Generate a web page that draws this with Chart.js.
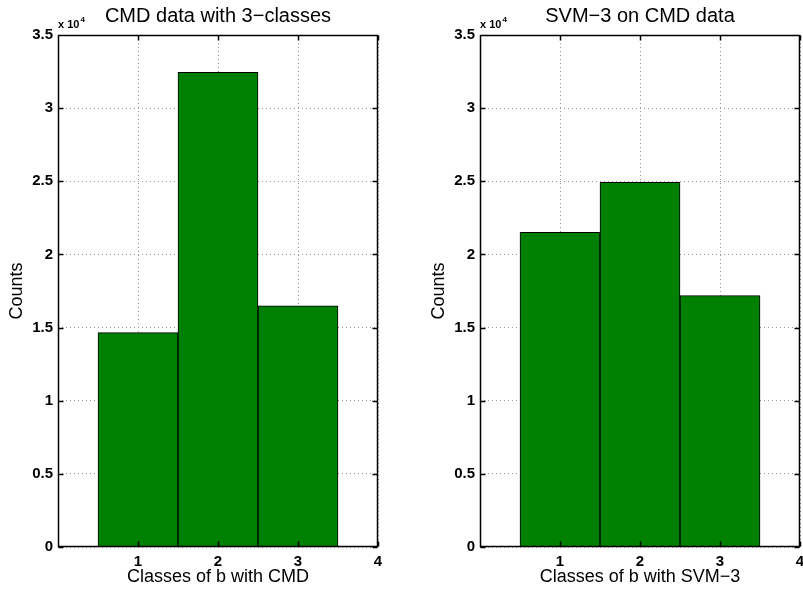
<!DOCTYPE html>
<html>
<head>
<meta charset="utf-8">
<script src="https://cdn.jsdelivr.net/npm/chart.js@4.4.0/dist/chart.umd.min.js"></script>
<style>
	html, body { margin: 0; padding: 0; background: #fff; overflow: hidden; }
	.panel { position: absolute; top: 0; width: 400px; height: 590px; }
</style>
</head>
<body>
<div class="panel" style="left:0"><canvas id="cmdChart" width="400" height="590"></canvas></div>
<div class="panel" style="left:422px"><canvas id="svmChart" width="400" height="590"></canvas></div>
<script>
const classes = [1, 2, 3];
const cmdCounts = [14650, 32450, 16490];
const svmCounts = [21510, 24930, 17180];
const xTicks = [1, 2, 3, 4];
const yTicks = [0, 5000, 10000, 15000, 20000, 25000, 30000, 35000];
const yTickLabels = ["0", "0.5", "1", "1.5", "2", "2.5", "3", "3.5"];

const FONT = "'Liberation Sans', Arial, Helvetica, sans-serif";

// box, inward tick marks and the "x 10^4" multiplier, drawn like matlab does
const matlabBox = {
	id: "matlabBox",
	afterDatasetsDraw(chart) {
		const { ctx, chartArea: a, scales } = chart;
		const l = Math.round(a.left) + 0.5;
		const r = Math.round(a.right) - 0.5;
		const t = Math.round(a.top) + 0.5;
		const b = Math.round(a.bottom) - 0.5;
		ctx.save();
		ctx.strokeStyle = "#000";
		ctx.lineWidth = 1.5;
		ctx.beginPath();
		ctx.rect(l, t, r - l, b - t);
		scales.y.ticks.forEach((tk) => {
			const y = Math.round(scales.y.getPixelForValue(tk.value)) + 0.5;
			ctx.moveTo(l, y);
			ctx.lineTo(l + 5, y);
			ctx.moveTo(r, y);
			ctx.lineTo(r - 5, y);
		});
		scales.x.ticks.forEach((tk) => {
			const x = Math.round(scales.x.getPixelForValue(tk.value)) + 0.5;
			ctx.moveTo(x, b);
			ctx.lineTo(x, b - 5);
			ctx.moveTo(x, t);
			ctx.lineTo(x, t + 5);
		});
		ctx.stroke();

		ctx.fillStyle = "#000";
		ctx.textBaseline = "alphabetic";
		ctx.textAlign = "left";
		ctx.font = "bold 11px " + FONT;
		ctx.fillText("x 10", a.left, a.top - 7);
		const w = ctx.measureText("x 10").width;
		ctx.font = "bold 8px " + FONT;
		ctx.fillText("4", a.left + w + 1, a.top - 13);
		ctx.restore();
	},
};

function makeChart(id, title, xLabel, counts) {
	return new Chart(document.getElementById(id), {
		type: "bar",
		data: {
			datasets: [
				{
					data: classes.map((c, i) => ({ x: c, y: counts[i] })),
					backgroundColor: "#008000",
					borderColor: "#000",
					borderWidth: 1,
					barPercentage: 1,
					categoryPercentage: 1,
				},
			],
		},
		options: {
			responsive: false,
			animation: false,
			layout: { padding: { left: 0, right: 22, top: 0, bottom: 0 } },
			plugins: {
				legend: { display: false },
				tooltip: { enabled: false },
				title: {
					display: true,
					fullSize: false,
					text: title,
					color: "#000",
					font: { family: FONT, size: 20, weight: "normal" },
					padding: { top: 4, bottom: 7 },
				},
			},
			scales: {
				x: {
					type: "linear",
					min: 0,
					max: 4,
					offset: false,
					afterBuildTicks: (s) => {
						s.ticks = xTicks.map((v) => ({ value: v }));
					},
					afterFit: (s) => {
						s.height = 43;
					},
					grid: { color: "#999", drawTicks: false, offset: false },
					border: { display: false, dash: [1, 3] },
					ticks: {
						color: "#000",
						padding: 6,
						font: { family: FONT, size: 15, weight: "bold" },
					},
					title: {
						display: true,
						text: xLabel,
						color: "#000",
						font: { family: FONT, size: 18 },
						padding: { top: 0, bottom: 2 },
					},
				},
				y: {
					min: 0,
					max: 35000,
					afterBuildTicks: (s) => {
						s.ticks = yTicks.map((v) => ({ value: v }));
					},
					afterFit: (s) => {
						s.width = 58;
					},
					grid: { color: "#999", drawTicks: false },
					border: { display: false, dash: [1, 3] },
					ticks: {
						color: "#000",
						padding: 5,
						font: { family: FONT, size: 15, weight: "bold" },
						callback: (v) => yTickLabels[yTicks.indexOf(v)],
					},
					title: {
						display: true,
						text: "Counts",
						color: "#000",
						font: { family: FONT, size: 18 },
						padding: { top: 6, bottom: 0 },
					},
				},
			},
		},
		plugins: [matlabBox],
	});
}

makeChart("cmdChart", "CMD data with 3\u2212classes", "Classes of b with CMD", cmdCounts);
makeChart("svmChart", "SVM\u22123 on CMD data", "Classes of b with SVM\u22123", svmCounts);
</script>
</body>
</html>
